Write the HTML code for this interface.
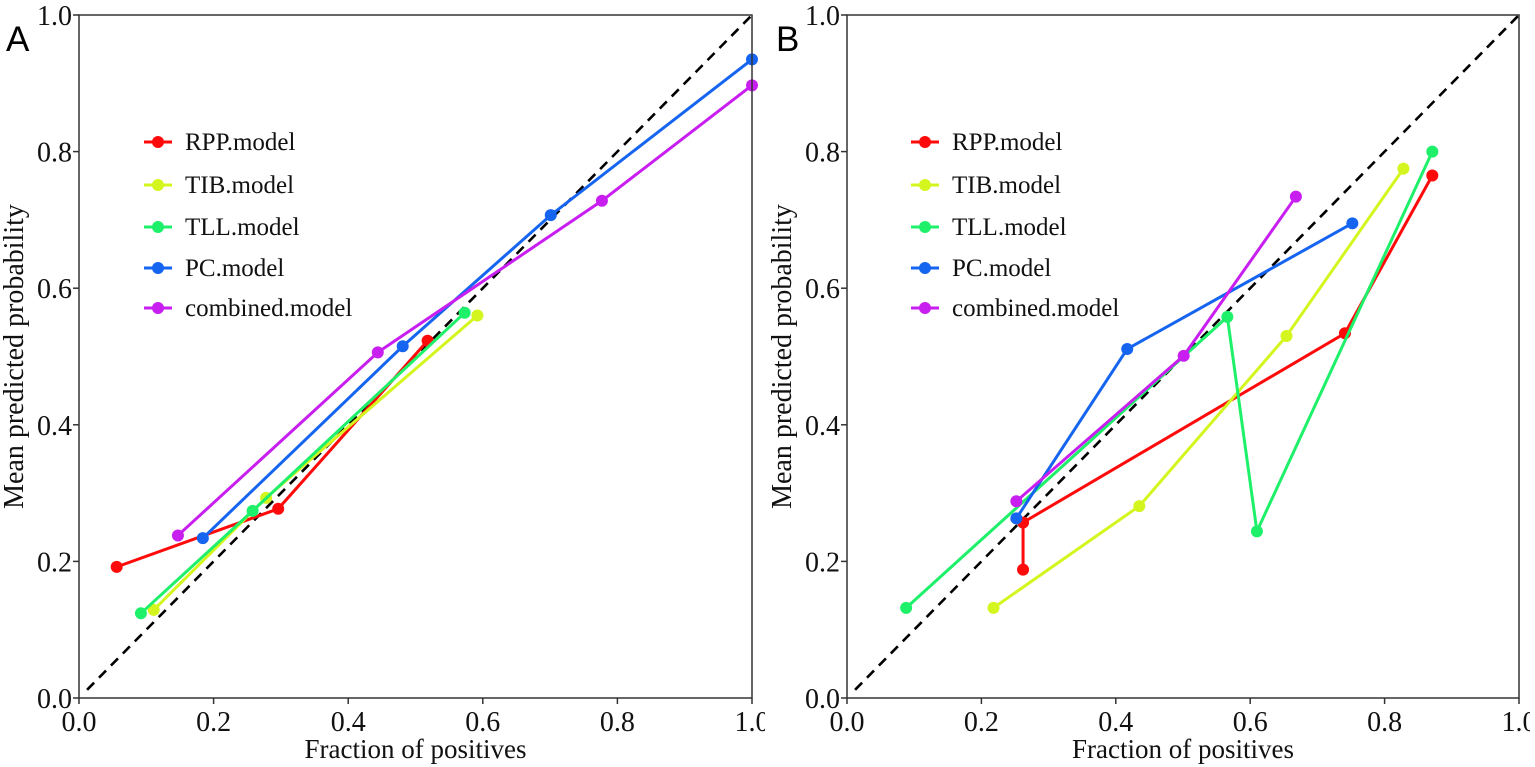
<!DOCTYPE html>
<html><head><meta charset="utf-8"><style>
html,body{margin:0;padding:0;background:#fff;}
svg{display:block;font-family:"Liberation Serif",serif;}
</style></head><body>
<svg id="fig" width="1535" height="767" viewBox="0 0 1535 767" xmlns="http://www.w3.org/2000/svg"></svg>
<script>
const ticks = [0, 0.2, 0.4, 0.6, 0.8, 1.0];
const tickLabels = ["0.0","0.2","0.4","0.6","0.8","1.0"];
const seriesNames = ["RPP.model","TIB.model","TLL.model","PC.model","combined.model"];
const seriesColors = ["#ff0a0a","#d4f51e","#1ef06a","#1565f0","#c81ef0"];
// Panel A
const aRppX=[0.056,0.296,0.518], aRppY=[0.192,0.277,0.523];
const aTibX=[0.111,0.278,0.592], aTibY=[0.129,0.293,0.560];
const aTllX=[0.092,0.258,0.573], aTllY=[0.124,0.274,0.564];
const aPcX=[0.184,0.481,0.701,1.0], aPcY=[0.234,0.515,0.707,0.935];
const aComX=[0.147,0.444,0.777,1.0], aComY=[0.238,0.506,0.728,0.897];
// Panel B
const bRppX=[0.262,0.262,0.741,0.871], bRppY=[0.188,0.257,0.534,0.765];
const bTibX=[0.218,0.435,0.654,0.828], bTibY=[0.132,0.281,0.530,0.775];
const bTllX=[0.088,0.566,0.610,0.871], bTllY=[0.132,0.558,0.244,0.800];
const bPcX=[0.252,0.417,0.752], bPcY=[0.263,0.511,0.695];
const bComX=[0.252,0.501,0.668], bComY=[0.288,0.501,0.734];

const NS="http://www.w3.org/2000/svg";
const svg=document.getElementById('fig');
function mk(tag,attrs,parent){const e=document.createElementNS(NS,tag);for(const k in attrs)e.setAttribute(k,attrs[k]);(parent||svg).appendChild(e);return e;}

function panel(id,L,R,T,B,letter,letterX,legX,legYs,seriesX,seriesY,clipR){
  const g=mk('g',{});
  
  
  const sx=v=>L+(R-L)*v, sy=v=>B-(B-T)*v;
  const d=mk('line',{x1:sx(0.012),y1:sy(0.012),x2:sx(1),y2:sy(1),stroke:'#000','stroke-width':2.6,'stroke-dasharray':'10,7'},g);
  
  
  for(let s=0;s<5;s++){
    const xs=seriesX[s], ys=seriesY[s];
    const sg=mk('g',{},g);
    
    
    const pts=xs.map((x,i)=>sx(x)+','+sy(ys[i])).join(' ');
    mk('polyline',{points:pts,fill:'none',stroke:seriesColors[s],'stroke-width':3},sg);
    xs.forEach((x,i)=>{
      const c=mk('circle',{cx:sx(x),cy:sy(ys[i]),r:6,fill:seriesColors[s]},sg);
      
      
    });
  }
  const f=mk('rect',{x:L,y:T,width:R-L,height:B-T,fill:'none',stroke:'#333','stroke-width':1.5},g);
  
  
  ticks.forEach((t,i)=>{
    mk('line',{x1:sx(t),y1:B,x2:sx(t),y2:B+6,stroke:'#333','stroke-width':1.5},g);
    const xl=mk('text',{x:sx(t),y:B+33,'font-size':28,'text-anchor':'middle',fill:'#111'},g);
    xl.textContent=tickLabels[i];
    
    
    mk('line',{x1:L-6,y1:sy(t),x2:L,y2:sy(t),stroke:'#333','stroke-width':1.5},g);
    const yl=mk('text',{x:L-7,y:sy(t)+10,'font-size':28,'text-anchor':'end',fill:'#111'},g);
    yl.textContent=tickLabels[i];
    
    
  });
  mk('rect',{x:clipR,y:B+8,width:40,height:32,fill:'#fff'},g);
  const xt=mk('text',{x:(L+R)/2,y:758,'font-size':27,'text-anchor':'middle',fill:'#111'},g);
  xt.textContent='Fraction of positives';
  
  
  const ytx=L-56;
  const yt=mk('text',{x:ytx,y:(T+B)/2,'font-size':28,'text-anchor':'middle',fill:'#111',transform:'rotate(-90 '+ytx+' '+((T+B)/2)+')'},g);
  yt.textContent='Mean predicted probability';
  
  
  const lt=mk('text',{x:letterX,y:51,'font-size':35,fill:'#000','font-family':'Liberation Sans, sans-serif'},g);
  lt.textContent=letter;
  
  
  for(let s=0;s<5;s++){
    const lg=mk('g',{},g);
    
    
    const y=legYs[s];
    mk('line',{x1:legX,y1:y,x2:legX+28,y2:y,stroke:seriesColors[s],'stroke-width':3},lg);
    mk('circle',{cx:legX+14,cy:y,r:6,fill:seriesColors[s]},lg);
    const tx=mk('text',{x:legX+41,y:y+8,'font-size':25,fill:'#111'},lg);
    tx.textContent=seriesNames[s];
  }
}
panel('a',79,752,15,698,'A',6,144,[142,185,227,268,308],
  [aRppX,aTibX,aTllX,aPcX,aComX],[aRppY,aTibY,aTllY,aPcY,aComY],765);
panel('b',847,1519,15,698,'B',776,911,[142,185,227,268,308],
  [bRppX,bTibX,bTllX,bPcX,bComX],[bRppY,bTibY,bTllY,bPcY,bComY],1530);
</script>
</body></html>
